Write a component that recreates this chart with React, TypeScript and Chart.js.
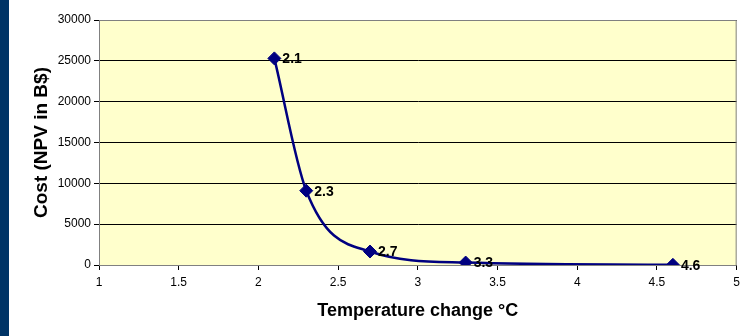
import React, { useEffect, useRef } from "react";
import Chart from "chart.js/auto";

const temperatures = [2.1, 2.3, 2.7, 3.3, 4.6];
const costs = [25300, 9100, 1650, 300, 20];
const pointLabels = ["2.1", "2.3", "2.7", "3.3", "4.6"];
const xTitle = "Temperature change °C";
const yTitle = "Cost (NPV in B$)";

const FONT = "'Liberation Sans', Arial, sans-serif";

export default function App() {
  const ref = useRef<HTMLCanvasElement | null>(null);

  useEffect(() => {
    if (!ref.current) return;

    const bgPlugin = {
      id: "bgPlugin",
      beforeDraw(chart: any) {
        const { ctx, chartArea } = chart;
        ctx.save();
        ctx.fillStyle = "#ffffff";
        ctx.fillRect(0, 0, chart.width, chart.height);
        ctx.fillStyle = "#003466";
        ctx.fillRect(0, 0, 9, chart.height);
        ctx.fillStyle = "#ffffcc";
        ctx.fillRect(chartArea.left, chartArea.top, chartArea.right - chartArea.left, chartArea.bottom - chartArea.top);
        ctx.restore();
      },
      beforeDatasetsDraw(chart: any) {
        const { ctx, chartArea } = chart;
        ctx.save();
        ctx.strokeStyle = "#808080";
        ctx.lineWidth = 1;
        ctx.strokeRect(chartArea.left + 0.5, chartArea.top + 0.5, chartArea.right - chartArea.left - 1, chartArea.bottom - chartArea.top);
        ctx.restore();
      },
      afterDatasetsDraw(chart: any) {
        const { ctx } = chart;
        const meta = chart.getDatasetMeta(0);
        ctx.save();
        ctx.fillStyle = "#000";
        ctx.font = `bold 14px ${FONT}`;
        ctx.textAlign = "left";
        ctx.textBaseline = "middle";
        meta.data.forEach((pt: any, i: number) => {
          ctx.fillText(pointLabels[i], pt.x + 8, pt.y + 1);
        });
        ctx.restore();
      },
    };

    const chart = new Chart(ref.current, {
      type: "line",
      data: {
        datasets: [
          {
            data: temperatures.map((t, i) => ({ x: t, y: costs[i] })),
            borderColor: "#000080",
            backgroundColor: "#000080",
            borderWidth: 2.5,
            cubicInterpolationMode: "monotone",
            pointStyle: "rectRot",
            pointRadius: 6.5,
            pointBorderWidth: 1,
            pointBackgroundColor: "#000080",
            pointBorderColor: "#000080",
            fill: false,
          },
        ],
      },
      options: {
        responsive: false,
        animation: false,
        layout: { padding: { top: 20, right: 7, left: 0, bottom: 0 } },
        plugins: {
          legend: { display: false },
          tooltip: { enabled: false },
        },
        scales: {
          x: {
            type: "linear",
            min: 1,
            max: 5,
            afterFit(scale: any) {
              scale.height = 71;
            },
            ticks: {
              stepSize: 0.5,
              color: "#000",
              font: { family: FONT, size: 12 },
              padding: 5,
              maxRotation: 0,
              callback: (v: any) => String(v),
            },
            grid: {
              drawOnChartArea: false,
              drawTicks: true,
              tickLength: 5,
              color: "#000",
            },
            border: { display: true, color: "#000" },
            title: {
              display: true,
              text: xTitle,
              color: "#000",
              font: { family: FONT, size: 18, weight: "bold" },
              padding: { top: 0, bottom: 14 },
            },
          },
          y: {
            min: 0,
            max: 30000,
            afterFit(scale: any) {
              scale.width = 99;
            },
            ticks: {
              stepSize: 5000,
              color: "#000",
              font: { family: FONT, size: 12 },
              padding: 3,
              callback: (v: any) => String(v),
            },
            grid: {
              drawTicks: true,
              tickLength: 5,
              color: "#000",
              lineWidth: 1,
            },
            border: { display: true, color: "#404040" },
            title: {
              display: true,
              text: yTitle,
              color: "#000",
              font: { family: FONT, size: 19, weight: "bold" },
              padding: { top: 30, bottom: 0 },
            },
          },
        },
      },
      plugins: [bgPlugin],
    } as any);

    return () => chart.destroy();
  }, []);

  return (
    <div style={{ position: "absolute", left: 0, top: 0, width: 745, height: 336, background: "#fff" }}>
      <canvas ref={ref} width={745} height={336} style={{ display: "block", width: 745, height: 336 }} />
    </div>
  );
}
